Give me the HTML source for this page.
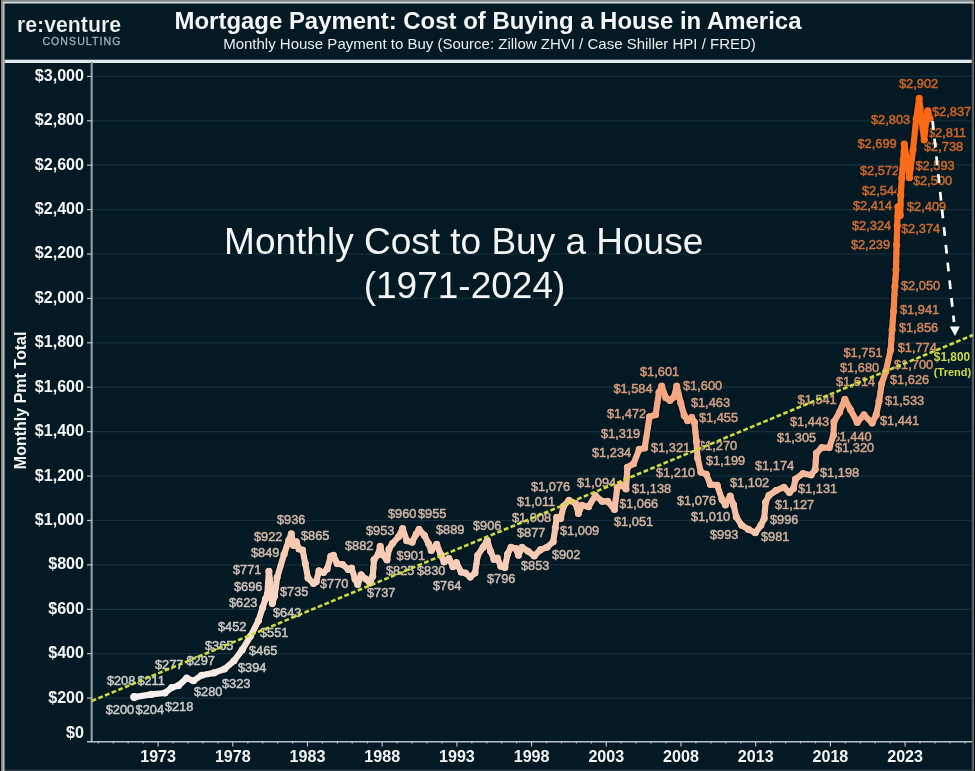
<!DOCTYPE html>
<html lang="en"><head><meta charset="utf-8"><title>Mortgage Payment: Cost of Buying a House in America</title>
<style>
html,body{margin:0;padding:0;background:#000;}
body{width:975px;height:771px;overflow:hidden;font-family:"Liberation Sans",Arial,sans-serif;}
svg{display:block;filter:blur(0.6px);}
text{font-family:"Liberation Sans",Arial,sans-serif;}
.yl{font-size:16.1px;font-weight:bold;fill:#f4f4f4;text-anchor:end;}
.xl{font-size:16.1px;font-weight:bold;fill:#f4f4f4;text-anchor:middle;}
.dl{font-size:12.8px;stroke-width:0.5px;}
</style></head><body>
<svg width="975" height="771" viewBox="0 0 975 771">
<rect x="0" y="0" width="975" height="771" fill="#000"/>
<rect x="1.0" y="0" width="972.8" height="771" fill="#838688"/>
<rect x="2.7" y="1.8" width="971.1" height="769.2" fill="#b4bcc0"/>
<rect x="2.7" y="1.8" width="971.1" height="1.9" fill="#ccd5da"/>
<rect x="4.7" y="3.7" width="969.1" height="767.3" fill="#4d5c64"/>
<rect x="4.7" y="769.8" width="969.1" height="1.2" fill="#2c3e48"/>
<rect x="4.7" y="3.7" width="967.1" height="766.1" fill="#031a24"/>
<rect x="4.7" y="59.7" width="967.1" height="3.3" fill="#dfe5e8"/>

<line x1="92" y1="698.1" x2="972" y2="698.1" stroke="#16303b" stroke-width="1.2"/>
<line x1="92" y1="653.7" x2="972" y2="653.7" stroke="#16303b" stroke-width="1.2"/>
<line x1="92" y1="609.3" x2="972" y2="609.3" stroke="#16303b" stroke-width="1.2"/>
<line x1="92" y1="564.9" x2="972" y2="564.9" stroke="#16303b" stroke-width="1.2"/>
<line x1="92" y1="520.5" x2="972" y2="520.5" stroke="#16303b" stroke-width="1.2"/>
<line x1="92" y1="476.1" x2="972" y2="476.1" stroke="#16303b" stroke-width="1.2"/>
<line x1="92" y1="431.6" x2="972" y2="431.6" stroke="#16303b" stroke-width="1.2"/>
<line x1="92" y1="387.2" x2="972" y2="387.2" stroke="#16303b" stroke-width="1.2"/>
<line x1="92" y1="342.8" x2="972" y2="342.8" stroke="#16303b" stroke-width="1.2"/>
<line x1="92" y1="298.4" x2="972" y2="298.4" stroke="#16303b" stroke-width="1.2"/>
<line x1="92" y1="254.0" x2="972" y2="254.0" stroke="#16303b" stroke-width="1.2"/>
<line x1="92" y1="209.6" x2="972" y2="209.6" stroke="#16303b" stroke-width="1.2"/>
<line x1="92" y1="165.2" x2="972" y2="165.2" stroke="#16303b" stroke-width="1.2"/>
<line x1="92" y1="120.8" x2="972" y2="120.8" stroke="#16303b" stroke-width="1.2"/>
<line x1="92" y1="76.4" x2="972" y2="76.4" stroke="#16303b" stroke-width="1.2"/>
<line x1="91.7" y1="62" x2="91.7" y2="742.5" stroke="#8e9aa1" stroke-width="2.2"/>
<line x1="87" y1="741.8" x2="972" y2="741.8" stroke="#b9c1c6" stroke-width="1.4"/>
<line x1="87" y1="698.1" x2="92" y2="698.1" stroke="#b9c1c6" stroke-width="1.2"/>
<text class="yl" x="84" y="702.5">$200</text>
<line x1="87" y1="653.7" x2="92" y2="653.7" stroke="#b9c1c6" stroke-width="1.2"/>
<text class="yl" x="84" y="658.1">$400</text>
<line x1="87" y1="609.3" x2="92" y2="609.3" stroke="#b9c1c6" stroke-width="1.2"/>
<text class="yl" x="84" y="613.7">$600</text>
<line x1="87" y1="564.9" x2="92" y2="564.9" stroke="#b9c1c6" stroke-width="1.2"/>
<text class="yl" x="84" y="569.3">$800</text>
<line x1="87" y1="520.5" x2="92" y2="520.5" stroke="#b9c1c6" stroke-width="1.2"/>
<text class="yl" x="84" y="524.9">$1,000</text>
<line x1="87" y1="476.1" x2="92" y2="476.1" stroke="#b9c1c6" stroke-width="1.2"/>
<text class="yl" x="84" y="480.5">$1,200</text>
<line x1="87" y1="431.6" x2="92" y2="431.6" stroke="#b9c1c6" stroke-width="1.2"/>
<text class="yl" x="84" y="436.0">$1,400</text>
<line x1="87" y1="387.2" x2="92" y2="387.2" stroke="#b9c1c6" stroke-width="1.2"/>
<text class="yl" x="84" y="391.6">$1,600</text>
<line x1="87" y1="342.8" x2="92" y2="342.8" stroke="#b9c1c6" stroke-width="1.2"/>
<text class="yl" x="84" y="347.2">$1,800</text>
<line x1="87" y1="298.4" x2="92" y2="298.4" stroke="#b9c1c6" stroke-width="1.2"/>
<text class="yl" x="84" y="302.8">$2,000</text>
<line x1="87" y1="254.0" x2="92" y2="254.0" stroke="#b9c1c6" stroke-width="1.2"/>
<text class="yl" x="84" y="258.4">$2,200</text>
<line x1="87" y1="209.6" x2="92" y2="209.6" stroke="#b9c1c6" stroke-width="1.2"/>
<text class="yl" x="84" y="214.0">$2,400</text>
<line x1="87" y1="165.2" x2="92" y2="165.2" stroke="#b9c1c6" stroke-width="1.2"/>
<text class="yl" x="84" y="169.6">$2,600</text>
<line x1="87" y1="120.8" x2="92" y2="120.8" stroke="#b9c1c6" stroke-width="1.2"/>
<text class="yl" x="84" y="125.2">$2,800</text>
<line x1="87" y1="76.4" x2="92" y2="76.4" stroke="#b9c1c6" stroke-width="1.2"/>
<text class="yl" x="84" y="80.8">$3,000</text>
<text class="yl" x="84" y="738.3">$0</text>
<line x1="98.3" y1="741.8" x2="98.3" y2="743.4" stroke="#b9c1c6" stroke-width="1.2"/>
<line x1="113.3" y1="741.8" x2="113.3" y2="743.4" stroke="#b9c1c6" stroke-width="1.2"/>
<line x1="128.2" y1="741.8" x2="128.2" y2="743.4" stroke="#b9c1c6" stroke-width="1.2"/>
<line x1="143.2" y1="741.8" x2="143.2" y2="743.4" stroke="#b9c1c6" stroke-width="1.2"/>
<line x1="158.1" y1="741.8" x2="158.1" y2="746.5" stroke="#b9c1c6" stroke-width="1.2"/>
<text class="xl" x="158.1" y="762.3">1973</text>
<line x1="173.0" y1="741.8" x2="173.0" y2="743.4" stroke="#b9c1c6" stroke-width="1.2"/>
<line x1="188.0" y1="741.8" x2="188.0" y2="743.4" stroke="#b9c1c6" stroke-width="1.2"/>
<line x1="202.9" y1="741.8" x2="202.9" y2="743.4" stroke="#b9c1c6" stroke-width="1.2"/>
<line x1="217.9" y1="741.8" x2="217.9" y2="743.4" stroke="#b9c1c6" stroke-width="1.2"/>
<line x1="232.8" y1="741.8" x2="232.8" y2="746.5" stroke="#b9c1c6" stroke-width="1.2"/>
<text class="xl" x="232.8" y="762.3">1978</text>
<line x1="247.7" y1="741.8" x2="247.7" y2="743.4" stroke="#b9c1c6" stroke-width="1.2"/>
<line x1="262.7" y1="741.8" x2="262.7" y2="743.4" stroke="#b9c1c6" stroke-width="1.2"/>
<line x1="277.6" y1="741.8" x2="277.6" y2="743.4" stroke="#b9c1c6" stroke-width="1.2"/>
<line x1="292.6" y1="741.8" x2="292.6" y2="743.4" stroke="#b9c1c6" stroke-width="1.2"/>
<line x1="307.5" y1="741.8" x2="307.5" y2="746.5" stroke="#b9c1c6" stroke-width="1.2"/>
<text class="xl" x="307.5" y="762.3">1983</text>
<line x1="322.4" y1="741.8" x2="322.4" y2="743.4" stroke="#b9c1c6" stroke-width="1.2"/>
<line x1="337.4" y1="741.8" x2="337.4" y2="743.4" stroke="#b9c1c6" stroke-width="1.2"/>
<line x1="352.3" y1="741.8" x2="352.3" y2="743.4" stroke="#b9c1c6" stroke-width="1.2"/>
<line x1="367.3" y1="741.8" x2="367.3" y2="743.4" stroke="#b9c1c6" stroke-width="1.2"/>
<line x1="382.2" y1="741.8" x2="382.2" y2="746.5" stroke="#b9c1c6" stroke-width="1.2"/>
<text class="xl" x="382.2" y="762.3">1988</text>
<line x1="397.1" y1="741.8" x2="397.1" y2="743.4" stroke="#b9c1c6" stroke-width="1.2"/>
<line x1="412.1" y1="741.8" x2="412.1" y2="743.4" stroke="#b9c1c6" stroke-width="1.2"/>
<line x1="427.0" y1="741.8" x2="427.0" y2="743.4" stroke="#b9c1c6" stroke-width="1.2"/>
<line x1="442.0" y1="741.8" x2="442.0" y2="743.4" stroke="#b9c1c6" stroke-width="1.2"/>
<line x1="456.9" y1="741.8" x2="456.9" y2="746.5" stroke="#b9c1c6" stroke-width="1.2"/>
<text class="xl" x="456.9" y="762.3">1993</text>
<line x1="471.8" y1="741.8" x2="471.8" y2="743.4" stroke="#b9c1c6" stroke-width="1.2"/>
<line x1="486.8" y1="741.8" x2="486.8" y2="743.4" stroke="#b9c1c6" stroke-width="1.2"/>
<line x1="501.7" y1="741.8" x2="501.7" y2="743.4" stroke="#b9c1c6" stroke-width="1.2"/>
<line x1="516.7" y1="741.8" x2="516.7" y2="743.4" stroke="#b9c1c6" stroke-width="1.2"/>
<line x1="531.6" y1="741.8" x2="531.6" y2="746.5" stroke="#b9c1c6" stroke-width="1.2"/>
<text class="xl" x="531.6" y="762.3">1998</text>
<line x1="546.5" y1="741.8" x2="546.5" y2="743.4" stroke="#b9c1c6" stroke-width="1.2"/>
<line x1="561.5" y1="741.8" x2="561.5" y2="743.4" stroke="#b9c1c6" stroke-width="1.2"/>
<line x1="576.4" y1="741.8" x2="576.4" y2="743.4" stroke="#b9c1c6" stroke-width="1.2"/>
<line x1="591.4" y1="741.8" x2="591.4" y2="743.4" stroke="#b9c1c6" stroke-width="1.2"/>
<line x1="606.3" y1="741.8" x2="606.3" y2="746.5" stroke="#b9c1c6" stroke-width="1.2"/>
<text class="xl" x="606.3" y="762.3">2003</text>
<line x1="621.2" y1="741.8" x2="621.2" y2="743.4" stroke="#b9c1c6" stroke-width="1.2"/>
<line x1="636.2" y1="741.8" x2="636.2" y2="743.4" stroke="#b9c1c6" stroke-width="1.2"/>
<line x1="651.1" y1="741.8" x2="651.1" y2="743.4" stroke="#b9c1c6" stroke-width="1.2"/>
<line x1="666.1" y1="741.8" x2="666.1" y2="743.4" stroke="#b9c1c6" stroke-width="1.2"/>
<line x1="681.0" y1="741.8" x2="681.0" y2="746.5" stroke="#b9c1c6" stroke-width="1.2"/>
<text class="xl" x="681.0" y="762.3">2008</text>
<line x1="695.9" y1="741.8" x2="695.9" y2="743.4" stroke="#b9c1c6" stroke-width="1.2"/>
<line x1="710.9" y1="741.8" x2="710.9" y2="743.4" stroke="#b9c1c6" stroke-width="1.2"/>
<line x1="725.8" y1="741.8" x2="725.8" y2="743.4" stroke="#b9c1c6" stroke-width="1.2"/>
<line x1="740.8" y1="741.8" x2="740.8" y2="743.4" stroke="#b9c1c6" stroke-width="1.2"/>
<line x1="755.7" y1="741.8" x2="755.7" y2="746.5" stroke="#b9c1c6" stroke-width="1.2"/>
<text class="xl" x="755.7" y="762.3">2013</text>
<line x1="770.6" y1="741.8" x2="770.6" y2="743.4" stroke="#b9c1c6" stroke-width="1.2"/>
<line x1="785.6" y1="741.8" x2="785.6" y2="743.4" stroke="#b9c1c6" stroke-width="1.2"/>
<line x1="800.5" y1="741.8" x2="800.5" y2="743.4" stroke="#b9c1c6" stroke-width="1.2"/>
<line x1="815.5" y1="741.8" x2="815.5" y2="743.4" stroke="#b9c1c6" stroke-width="1.2"/>
<line x1="830.4" y1="741.8" x2="830.4" y2="746.5" stroke="#b9c1c6" stroke-width="1.2"/>
<text class="xl" x="830.4" y="762.3">2018</text>
<line x1="845.3" y1="741.8" x2="845.3" y2="743.4" stroke="#b9c1c6" stroke-width="1.2"/>
<line x1="860.3" y1="741.8" x2="860.3" y2="743.4" stroke="#b9c1c6" stroke-width="1.2"/>
<line x1="875.2" y1="741.8" x2="875.2" y2="743.4" stroke="#b9c1c6" stroke-width="1.2"/>
<line x1="890.2" y1="741.8" x2="890.2" y2="743.4" stroke="#b9c1c6" stroke-width="1.2"/>
<line x1="905.1" y1="741.8" x2="905.1" y2="746.5" stroke="#b9c1c6" stroke-width="1.2"/>
<text class="xl" x="905.1" y="762.3">2023</text>
<line x1="920.0" y1="741.8" x2="920.0" y2="743.4" stroke="#b9c1c6" stroke-width="1.2"/>
<line x1="935.0" y1="741.8" x2="935.0" y2="743.4" stroke="#b9c1c6" stroke-width="1.2"/>
<line x1="949.9" y1="741.8" x2="949.9" y2="743.4" stroke="#b9c1c6" stroke-width="1.2"/>
<line x1="964.9" y1="741.8" x2="964.9" y2="743.4" stroke="#b9c1c6" stroke-width="1.2"/>
<text transform="translate(26.3,400.4) rotate(-90)" text-anchor="middle" font-size="16" font-weight="bold" fill="#f4f4f4">Monthly Pmt Total</text>
<text x="488" y="28.6" text-anchor="middle" font-size="23.95" font-weight="bold" fill="#f6f6f6">Mortgage Payment: Cost of Buying a House in America</text>
<text x="489.5" y="48.8" text-anchor="middle" font-size="15" fill="#eeeeee">Monthly House Payment to Buy (Source: Zillow ZHVI / Case Shiller HPI / FRED)</text>
<text x="17" y="31.7" font-size="21.6" font-weight="bold" fill="#f1f3f4" stroke="#031a24" stroke-width="0.2" textLength="104" lengthAdjust="spacingAndGlyphs">re:venture</text>
<text x="42.4" y="44.7" font-size="10.6" fill="#a3adb2" stroke="#a3adb2" stroke-width="0.3" textLength="78" lengthAdjust="spacing">CONSULTING</text>
<text x="463.7" y="254" text-anchor="middle" font-size="37" fill="#f4f4f4">Monthly Cost to Buy a House</text>
<text x="464.5" y="298" text-anchor="middle" font-size="37" fill="#f4f4f4">(1971-2024)</text>
<text class="dl" x="105.7" y="714.4" fill="#cacaca" stroke="#cacaca">$200</text>
<text class="dl" x="135.6" y="714.4" fill="#cacaca" stroke="#cacaca">$204</text>
<text class="dl" x="164.9" y="710.6" fill="#cacaca" stroke="#cacaca">$218</text>
<text class="dl" x="106.9" y="684.9" fill="#cacaca" stroke="#cacaca">$208</text>
<text class="dl" x="137.4" y="684.9" fill="#cacaca" stroke="#cacaca">$211</text>
<text class="dl" x="155" y="669.1" fill="#cbc9c8" stroke="#cbc9c8">$277</text>
<text class="dl" x="186.5" y="664.7" fill="#cbc9c8" stroke="#cbc9c8">$297</text>
<text class="dl" x="194" y="696.1" fill="#cbc9c8" stroke="#cbc9c8">$280</text>
<text class="dl" x="222" y="687.5" fill="#cbc8c7" stroke="#cbc8c7">$323</text>
<text class="dl" x="205" y="650.1" fill="#ccc8c6" stroke="#ccc8c6">$365</text>
<text class="dl" x="238" y="672.1" fill="#ccc8c5" stroke="#ccc8c5">$394</text>
<text class="dl" x="218" y="631.1" fill="#cdc7c4" stroke="#cdc7c4">$452</text>
<text class="dl" x="249" y="655.1" fill="#cdc7c3" stroke="#cdc7c3">$465</text>
<text class="dl" x="260" y="637.1" fill="#cec6c1" stroke="#cec6c1">$551</text>
<text class="dl" x="229" y="607.1" fill="#cec4be" stroke="#cec4be">$623</text>
<text class="dl" x="273" y="617.1" fill="#cfc3bd" stroke="#cfc3bd">$643</text>
<text class="dl" x="234" y="591.1" fill="#cfc0b8" stroke="#cfc0b8">$696</text>
<text class="dl" x="280" y="596.1" fill="#d0beb5" stroke="#d0beb5">$735</text>
<text class="dl" x="233" y="574.1" fill="#d0bcb2" stroke="#d0bcb2">$771</text>
<text class="dl" x="251" y="557.3" fill="#d1b9ac" stroke="#d1b9ac">$849</text>
<text class="dl" x="254" y="541.1" fill="#d2b5a7" stroke="#d2b5a7">$922</text>
<text class="dl" x="277" y="524.1" fill="#d2b5a6" stroke="#d2b5a6">$936</text>
<text class="dl" x="301" y="540.1" fill="#d2b8ab" stroke="#d2b8ab">$865</text>
<text class="dl" x="320" y="588.1" fill="#d0bcb2" stroke="#d0bcb2">$770</text>
<text class="dl" x="367" y="597.1" fill="#d0beb5" stroke="#d0beb5">$737</text>
<text class="dl" x="345" y="550.1" fill="#d2b7a9" stroke="#d2b7a9">$882</text>
<text class="dl" x="366" y="535.1" fill="#d2b4a5" stroke="#d2b4a5">$953</text>
<text class="dl" x="388" y="518.1" fill="#d2b4a4" stroke="#d2b4a4">$960</text>
<text class="dl" x="418" y="518.1" fill="#d2b4a4" stroke="#d2b4a4">$955</text>
<text class="dl" x="396.6" y="560.1" fill="#d2b6a8" stroke="#d2b6a8">$901</text>
<text class="dl" x="386" y="575.1" fill="#d1baae" stroke="#d1baae">$825</text>
<text class="dl" x="417" y="575.1" fill="#d1baae" stroke="#d1baae">$830</text>
<text class="dl" x="436" y="534.1" fill="#d2b7a9" stroke="#d2b7a9">$889</text>
<text class="dl" x="433" y="590.1" fill="#d0bdb3" stroke="#d0bdb3">$764</text>
<text class="dl" x="473" y="530.1" fill="#d2b6a8" stroke="#d2b6a8">$906</text>
<text class="dl" x="487" y="583.1" fill="#d1bbb0" stroke="#d1bbb0">$796</text>
<text class="dl" x="521" y="570.1" fill="#d1b8ac" stroke="#d1b8ac">$853</text>
<text class="dl" x="517" y="537.1" fill="#d2b7aa" stroke="#d2b7aa">$877</text>
<text class="dl" x="552" y="559.1" fill="#d2b6a8" stroke="#d2b6a8">$902</text>
<text class="dl" x="512" y="522.1" fill="#d3b2a1" stroke="#d3b2a1">$1,008</text>
<text class="dl" x="517" y="506.1" fill="#d3b2a1" stroke="#d3b2a1">$1,011</text>
<text class="dl" x="531" y="491.1" fill="#d3af9d" stroke="#d3af9d">$1,076</text>
<text class="dl" x="560" y="535.1" fill="#d3b2a1" stroke="#d3b2a1">$1,009</text>
<text class="dl" x="577" y="487.1" fill="#d3ae9b" stroke="#d3ae9b">$1,094</text>
<text class="dl" x="614" y="526.1" fill="#d3b09e" stroke="#d3b09e">$1,051</text>
<text class="dl" x="619" y="508.1" fill="#d3af9d" stroke="#d3af9d">$1,066</text>
<text class="dl" x="632" y="493.0" fill="#d3ac99" stroke="#d3ac99">$1,138</text>
<text class="dl" x="592" y="457.1" fill="#d4a992" stroke="#d4a992">$1,234</text>
<text class="dl" x="601" y="438.1" fill="#d4a58d" stroke="#d4a58d">$1,319</text>
<text class="dl" x="607" y="418.1" fill="#d59e81" stroke="#d59e81">$1,472</text>
<text class="dl" x="613.4" y="393.1" fill="#d69979" stroke="#d69979">$1,584</text>
<text class="dl" x="640" y="376.1" fill="#d69878" stroke="#d69878">$1,601</text>
<text class="dl" x="683" y="390.1" fill="#d69878" stroke="#d69878">$1,600</text>
<text class="dl" x="690.9" y="406.5" fill="#d59e82" stroke="#d59e82">$1,463</text>
<text class="dl" x="698.9" y="422.3" fill="#d59f83" stroke="#d59f83">$1,455</text>
<text class="dl" x="651" y="452.4" fill="#d4a58c" stroke="#d4a58c">$1,321</text>
<text class="dl" x="656" y="477.3" fill="#d4aa94" stroke="#d4aa94">$1,210</text>
<text class="dl" x="698" y="449.8" fill="#d4a790" stroke="#d4a790">$1,270</text>
<text class="dl" x="706" y="465.1" fill="#d3aa95" stroke="#d3aa95">$1,199</text>
<text class="dl" x="677" y="505.1" fill="#d3af9d" stroke="#d3af9d">$1,076</text>
<text class="dl" x="691" y="521.1" fill="#d3b2a1" stroke="#d3b2a1">$1,010</text>
<text class="dl" x="710" y="539.1" fill="#d2b2a2" stroke="#d2b2a2">$993</text>
<text class="dl" x="730" y="487.1" fill="#d3ae9b" stroke="#d3ae9b">$1,102</text>
<text class="dl" x="761" y="541.1" fill="#d2b3a3" stroke="#d2b3a3">$981</text>
<text class="dl" x="770" y="524.1" fill="#d2b2a2" stroke="#d2b2a2">$996</text>
<text class="dl" x="755" y="470.1" fill="#d3ab96" stroke="#d3ab96">$1,174</text>
<text class="dl" x="775" y="509.1" fill="#d3ad99" stroke="#d3ad99">$1,127</text>
<text class="dl" x="798" y="493.1" fill="#d3ad99" stroke="#d3ad99">$1,131</text>
<text class="dl" x="820" y="477.1" fill="#d3aa95" stroke="#d3aa95">$1,198</text>
<text class="dl" x="777" y="442.1" fill="#d4a68e" stroke="#d4a68e">$1,305</text>
<text class="dl" x="835" y="452.1" fill="#d4a58d" stroke="#d4a58d">$1,320</text>
<text class="dl" x="832.5" y="441.4" fill="#d59f84" stroke="#d59f84">$1,440</text>
<text class="dl" x="790" y="426.4" fill="#d59f84" stroke="#d59f84">$1,443</text>
<text class="dl" x="797.6" y="403.9" fill="#d69b7c" stroke="#d69b7c">$1,541</text>
<text class="dl" x="836" y="386.1" fill="#d69777" stroke="#d69777">$1,614</text>
<text class="dl" x="840" y="372.1" fill="#d49270" stroke="#d49270">$1,680</text>
<text class="dl" x="843.5" y="356.6" fill="#d28d6a" stroke="#d28d6a">$1,751</text>
<text class="dl" x="880" y="425.1" fill="#d59f84" stroke="#d59f84">$1,441</text>
<text class="dl" x="885" y="405.1" fill="#d69b7d" stroke="#d69b7d">$1,533</text>
<text class="dl" x="890" y="384.1" fill="#d59676" stroke="#d59676">$1,626</text>
<text class="dl" x="894" y="368.7" fill="#d3916e" stroke="#d3916e">$1,700</text>
<text class="dl" x="897.7" y="351.5" fill="#d18c67" stroke="#d18c67">$1,774</text>
<text class="dl" x="899" y="332.1" fill="#cf8660" stroke="#cf8660">$1,856</text>
<text class="dl" x="900" y="314.1" fill="#cd8058" stroke="#cd8058">$1,941</text>
<text class="dl" x="901" y="290.1" fill="#cb7a4e" stroke="#cb7a4e">$2,050</text>
<text class="dl" x="850.9" y="249.1" fill="#cb703e" stroke="#cb703e">$2,239</text>
<text class="dl" x="852" y="230.1" fill="#cb6c36" stroke="#cb6c36">$2,324</text>
<text class="dl" x="853" y="210.1" fill="#cb6830" stroke="#cb6830">$2,414</text>
<text class="dl" x="862" y="195.0" fill="#cc662c" stroke="#cc662c">$2,544</text>
<text class="dl" x="860" y="175.1" fill="#cc662b" stroke="#cc662b">$2,572</text>
<text class="dl" x="857.5" y="147.8" fill="#cd6428" stroke="#cd6428">$2,699</text>
<text class="dl" x="871" y="123.6" fill="#ce6325" stroke="#ce6325">$2,803</text>
<text class="dl" x="899" y="88.1" fill="#cf6222" stroke="#cf6222">$2,902</text>
<text class="dl" x="932" y="116.1" fill="#ce6324" stroke="#ce6324">$2,837</text>
<text class="dl" x="928" y="136.9" fill="#ce6324" stroke="#ce6324">$2,811</text>
<text class="dl" x="924" y="151.1" fill="#ce6427" stroke="#ce6427">$2,738</text>
<text class="dl" x="915.5" y="170.4" fill="#cd662b" stroke="#cd662b">$2,593</text>
<text class="dl" x="913" y="185.1" fill="#cc672d" stroke="#cc672d">$2,500</text>
<text class="dl" x="907" y="211.1" fill="#cb6830" stroke="#cb6830">$2,409</text>
<text class="dl" x="901" y="233.1" fill="#cb6932" stroke="#cb6932">$2,374</text>
<polyline fill="none" stroke="#01131b" stroke-width="9" stroke-linejoin="round" stroke-linecap="round" points="134.3,697.1 151.3,694.4 164.9,693.0 171.7,687.6 178.5,685.6 186.7,678.1 193.5,680.8 201.7,675.3 214.0,672.9 224.5,669.0 234.0,660.8 242.2,649.9 250.4,636.3 258.5,620.6 262.6,607.7 265.5,599.0 267.4,594.0 268.9,571.2 270.8,589.0 272.3,603.6 274.6,596.0 277.1,577.6 284.1,554.2 288.8,540.2 291.3,533.8 293.5,545.4 296.3,541.8 299.0,549.0 302.6,550.0 305.3,563.6 308.0,578.0 313.5,583.5 316.2,581.7 319.0,570.8 323.5,572.6 327.1,569.0 330.8,556.3 333.5,555.4 337.1,563.6 342.6,564.5 348.2,569.4 351.6,568.1 355.0,579.0 357.7,584.4 361.1,574.9 365.9,579.0 370.0,583.0 372.7,576.2 374.0,559.9 378.1,554.5 380.2,546.3 382.2,554.5 387.0,559.9 389.0,549.0 392.4,543.6 398.5,536.8 402.6,528.6 406.7,540.8 412.1,542.2 416.2,534.0 419.0,529.3 424.4,535.4 428.5,543.6 431.2,550.4 436.7,544.2 440.7,554.5 444.1,561.9 448.9,558.5 453.0,566.7 456.4,562.6 461.2,572.1 465.4,573.0 470.2,577.1 475.0,573.0 477.7,555.3 483.1,547.2 487.2,540.4 490.6,551.3 494.0,559.4 497.4,558.1 500.8,566.2 504.9,567.6 507.6,554.0 511.0,547.2 515.8,548.5 518.5,555.3 521.9,547.2 528.1,551.3 534.2,556.0 540.3,549.9 547.1,547.2 553.2,541.7 555.3,528.1 556.7,517.2 560.7,518.6 563.5,506.3 568.9,500.2 575.7,503.6 578.4,513.5 581.8,505.3 588.6,506.7 595.4,495.5 602.2,501.3 607.7,501.3 614.5,509.4 617.2,487.6 621.3,484.9 626.0,489.0 627.4,467.2 633.5,463.8 639.2,449.4 644.7,448.0 649.5,416.7 655.6,414.7 659.0,392.2 661.7,386.1 665.8,397.7 669.9,400.4 674.0,397.0 676.7,386.1 680.8,403.1 684.2,415.4 687.6,420.8 691.7,417.4 694.4,422.2 696.4,441.2 697.6,458.0 700.9,472.2 706.3,474.3 710.4,484.5 717.2,485.2 722.0,499.5 725.4,504.9 730.2,496.0 733.6,504.9 736.3,517.1 741.7,525.3 748.5,529.4 755.3,532.8 760.8,525.3 764.2,518.5 765.6,502.2 769.0,495.4 775.8,490.6 783.9,487.2 789.4,492.6 793.5,488.6 795.5,479.0 803.0,473.6 811.2,475.0 815.2,469.5 816.4,453.0 821.8,447.6 829.3,447.6 833.4,435.3 834.0,421.7 839.5,412.2 844.9,399.3 850.4,409.5 857.2,422.4 864.0,414.9 872.1,423.1 876.2,414.9 879.0,401.3 881.7,383.6 885.8,371.4 890.7,349.9 892.1,329.9 893.5,311.4 894.9,286.4 896.0,270.0 896.6,244.9 897.2,225.8 897.9,206.8 900.2,215.4 900.8,195.0 901.8,178.0 903.2,160.0 904.3,144.0 906.8,160.0 909.4,177.8 913.0,150.0 916.2,119.0 919.2,98.2 921.4,118.0 924.2,140.0 926.0,122.0 927.8,110.7 930.0,118.5"/>
<g stroke-width="6.2" stroke-linecap="round" fill="none">
<line x1="134.3" y1="697.1" x2="151.3" y2="694.4" stroke="#f7f2f0"/>
<line x1="151.3" y1="694.4" x2="164.9" y2="693.0" stroke="#f7f2ef"/>
<line x1="164.9" y1="693.0" x2="171.7" y2="687.6" stroke="#f7f1ed"/>
<line x1="171.7" y1="687.6" x2="178.5" y2="685.6" stroke="#f7f0ec"/>
<line x1="178.5" y1="685.6" x2="186.7" y2="678.1" stroke="#f7eeea"/>
<line x1="186.7" y1="678.1" x2="193.5" y2="680.8" stroke="#f7ede8"/>
<line x1="193.5" y1="680.8" x2="201.7" y2="675.3" stroke="#f7ede8"/>
<line x1="201.7" y1="675.3" x2="214.0" y2="672.9" stroke="#f7ece6"/>
<line x1="214.0" y1="672.9" x2="224.5" y2="669.0" stroke="#f7ebe4"/>
<line x1="224.5" y1="669.0" x2="234.0" y2="660.8" stroke="#f7e9e2"/>
<line x1="234.0" y1="660.8" x2="242.2" y2="649.9" stroke="#f7e6dd"/>
<line x1="242.2" y1="649.9" x2="250.4" y2="636.3" stroke="#f7e2d8"/>
<line x1="250.4" y1="636.3" x2="258.5" y2="620.6" stroke="#f7ded1"/>
<line x1="258.5" y1="620.6" x2="262.6" y2="607.7" stroke="#f7d9ca"/>
<line x1="262.6" y1="607.7" x2="265.5" y2="599.0" stroke="#f7d7c6"/>
<line x1="265.5" y1="599.0" x2="267.4" y2="594.0" stroke="#f7d5c4"/>
<line x1="267.4" y1="594.0" x2="268.1" y2="582.6" stroke="#f7d3c1"/>
<line x1="268.1" y1="582.6" x2="268.9" y2="571.2" stroke="#f7d0bd"/>
<line x1="268.9" y1="571.2" x2="269.9" y2="580.1" stroke="#f7d0bd"/>
<line x1="269.9" y1="580.1" x2="270.8" y2="589.0" stroke="#f7d2c0"/>
<line x1="270.8" y1="589.0" x2="272.3" y2="603.6" stroke="#f7d5c4"/>
<line x1="272.3" y1="603.6" x2="274.6" y2="596.0" stroke="#f7d6c5"/>
<line x1="274.6" y1="596.0" x2="275.9" y2="586.8" stroke="#f7d4c2"/>
<line x1="275.9" y1="586.8" x2="277.1" y2="577.6" stroke="#f7d1bf"/>
<line x1="277.1" y1="577.6" x2="280.6" y2="565.9" stroke="#f7cfbc"/>
<line x1="280.6" y1="565.9" x2="284.1" y2="554.2" stroke="#f7ccb8"/>
<line x1="284.1" y1="554.2" x2="288.8" y2="540.2" stroke="#f7c9b3"/>
<line x1="288.8" y1="540.2" x2="291.3" y2="533.8" stroke="#f7c7b0"/>
<line x1="291.3" y1="533.8" x2="293.5" y2="545.4" stroke="#f7c7b1"/>
<line x1="293.5" y1="545.4" x2="296.3" y2="541.8" stroke="#f7c8b2"/>
<line x1="296.3" y1="541.8" x2="299.0" y2="549.0" stroke="#f7c9b3"/>
<line x1="299.0" y1="549.0" x2="302.6" y2="550.0" stroke="#f7cab4"/>
<line x1="302.6" y1="550.0" x2="305.3" y2="563.6" stroke="#f7cbb7"/>
<line x1="305.3" y1="563.6" x2="308.0" y2="578.0" stroke="#f7cfbb"/>
<line x1="308.0" y1="578.0" x2="313.5" y2="583.5" stroke="#f7d1bf"/>
<line x1="313.5" y1="583.5" x2="316.2" y2="581.7" stroke="#f7d2bf"/>
<line x1="316.2" y1="581.7" x2="319.0" y2="570.8" stroke="#f7d0bd"/>
<line x1="319.0" y1="570.8" x2="323.5" y2="572.6" stroke="#f7cfbc"/>
<line x1="323.5" y1="572.6" x2="327.1" y2="569.0" stroke="#f7cfbb"/>
<line x1="327.1" y1="569.0" x2="330.8" y2="556.3" stroke="#f7cdb9"/>
<line x1="330.8" y1="556.3" x2="333.5" y2="555.4" stroke="#f7cbb6"/>
<line x1="333.5" y1="555.4" x2="337.1" y2="563.6" stroke="#f7ccb8"/>
<line x1="337.1" y1="563.6" x2="342.6" y2="564.5" stroke="#f7cdb9"/>
<line x1="342.6" y1="564.5" x2="348.2" y2="569.4" stroke="#f7ceba"/>
<line x1="348.2" y1="569.4" x2="351.6" y2="568.1" stroke="#f7cebb"/>
<line x1="351.6" y1="568.1" x2="355.0" y2="579.0" stroke="#f7cfbc"/>
<line x1="355.0" y1="579.0" x2="357.7" y2="584.4" stroke="#f7d1bf"/>
<line x1="357.7" y1="584.4" x2="361.1" y2="574.9" stroke="#f7d1be"/>
<line x1="361.1" y1="574.9" x2="365.9" y2="579.0" stroke="#f7d0bd"/>
<line x1="365.9" y1="579.0" x2="370.0" y2="583.0" stroke="#f7d1bf"/>
<line x1="370.0" y1="583.0" x2="372.7" y2="576.2" stroke="#f7d1be"/>
<line x1="372.7" y1="576.2" x2="373.4" y2="568.0" stroke="#f7cfbc"/>
<line x1="373.4" y1="568.0" x2="374.0" y2="559.9" stroke="#f7cdb9"/>
<line x1="374.0" y1="559.9" x2="378.1" y2="554.5" stroke="#f7cbb7"/>
<line x1="378.1" y1="554.5" x2="380.2" y2="546.3" stroke="#f7cab5"/>
<line x1="380.2" y1="546.3" x2="382.2" y2="554.5" stroke="#f7cab5"/>
<line x1="382.2" y1="554.5" x2="387.0" y2="559.9" stroke="#f7cbb7"/>
<line x1="387.0" y1="559.9" x2="389.0" y2="549.0" stroke="#f7cbb6"/>
<line x1="389.0" y1="549.0" x2="392.4" y2="543.6" stroke="#f7c9b3"/>
<line x1="392.4" y1="543.6" x2="398.5" y2="536.8" stroke="#f7c7b1"/>
<line x1="398.5" y1="536.8" x2="402.6" y2="528.6" stroke="#f7c6af"/>
<line x1="402.6" y1="528.6" x2="406.7" y2="540.8" stroke="#f7c6af"/>
<line x1="406.7" y1="540.8" x2="412.1" y2="542.2" stroke="#f7c8b2"/>
<line x1="412.1" y1="542.2" x2="416.2" y2="534.0" stroke="#f7c7b0"/>
<line x1="416.2" y1="534.0" x2="419.0" y2="529.3" stroke="#f7c6ae"/>
<line x1="419.0" y1="529.3" x2="424.4" y2="535.4" stroke="#f7c6af"/>
<line x1="424.4" y1="535.4" x2="428.5" y2="543.6" stroke="#f7c7b1"/>
<line x1="428.5" y1="543.6" x2="431.2" y2="550.4" stroke="#f7c9b3"/>
<line x1="431.2" y1="550.4" x2="436.7" y2="544.2" stroke="#f7c9b4"/>
<line x1="436.7" y1="544.2" x2="440.7" y2="554.5" stroke="#f7cab4"/>
<line x1="440.7" y1="554.5" x2="444.1" y2="561.9" stroke="#f7ccb7"/>
<line x1="444.1" y1="561.9" x2="448.9" y2="558.5" stroke="#f7ccb8"/>
<line x1="448.9" y1="558.5" x2="453.0" y2="566.7" stroke="#f7cdb9"/>
<line x1="453.0" y1="566.7" x2="456.4" y2="562.6" stroke="#f7cdb9"/>
<line x1="456.4" y1="562.6" x2="461.2" y2="572.1" stroke="#f7ceba"/>
<line x1="461.2" y1="572.1" x2="465.4" y2="573.0" stroke="#f7cfbc"/>
<line x1="465.4" y1="573.0" x2="470.2" y2="577.1" stroke="#f7d0bd"/>
<line x1="470.2" y1="577.1" x2="475.0" y2="573.0" stroke="#f7d0bd"/>
<line x1="475.0" y1="573.0" x2="476.4" y2="564.1" stroke="#f7cebb"/>
<line x1="476.4" y1="564.1" x2="477.7" y2="555.3" stroke="#f7ccb8"/>
<line x1="477.7" y1="555.3" x2="483.1" y2="547.2" stroke="#f7cab5"/>
<line x1="483.1" y1="547.2" x2="487.2" y2="540.4" stroke="#f7c8b2"/>
<line x1="487.2" y1="540.4" x2="490.6" y2="551.3" stroke="#f7c9b3"/>
<line x1="490.6" y1="551.3" x2="494.0" y2="559.4" stroke="#f7cbb6"/>
<line x1="494.0" y1="559.4" x2="497.4" y2="558.1" stroke="#f7ccb7"/>
<line x1="497.4" y1="558.1" x2="500.8" y2="566.2" stroke="#f7cdb8"/>
<line x1="500.8" y1="566.2" x2="504.9" y2="567.6" stroke="#f7ceba"/>
<line x1="504.9" y1="567.6" x2="507.6" y2="554.0" stroke="#f7ccb8"/>
<line x1="507.6" y1="554.0" x2="511.0" y2="547.2" stroke="#f7cab5"/>
<line x1="511.0" y1="547.2" x2="515.8" y2="548.5" stroke="#f7c9b4"/>
<line x1="515.8" y1="548.5" x2="518.5" y2="555.3" stroke="#f7cab5"/>
<line x1="518.5" y1="555.3" x2="521.9" y2="547.2" stroke="#f7cab5"/>
<line x1="521.9" y1="547.2" x2="528.1" y2="551.3" stroke="#f7cab4"/>
<line x1="528.1" y1="551.3" x2="534.2" y2="556.0" stroke="#f7cbb6"/>
<line x1="534.2" y1="556.0" x2="540.3" y2="549.9" stroke="#f7cab5"/>
<line x1="540.3" y1="549.9" x2="547.1" y2="547.2" stroke="#f7c9b4"/>
<line x1="547.1" y1="547.2" x2="553.2" y2="541.7" stroke="#f7c8b3"/>
<line x1="553.2" y1="541.7" x2="555.3" y2="528.1" stroke="#f7c6af"/>
<line x1="555.3" y1="528.1" x2="556.7" y2="517.2" stroke="#f7c3ab"/>
<line x1="556.7" y1="517.2" x2="560.7" y2="518.6" stroke="#f7c2aa"/>
<line x1="560.7" y1="518.6" x2="563.5" y2="506.3" stroke="#f7c1a8"/>
<line x1="563.5" y1="506.3" x2="568.9" y2="500.2" stroke="#f7bfa5"/>
<line x1="568.9" y1="500.2" x2="575.7" y2="503.6" stroke="#f7bfa4"/>
<line x1="575.7" y1="503.6" x2="578.4" y2="513.5" stroke="#f7c0a6"/>
<line x1="578.4" y1="513.5" x2="581.8" y2="505.3" stroke="#f7c1a7"/>
<line x1="581.8" y1="505.3" x2="588.6" y2="506.7" stroke="#f7c0a6"/>
<line x1="588.6" y1="506.7" x2="595.4" y2="495.5" stroke="#f7bfa4"/>
<line x1="595.4" y1="495.5" x2="602.2" y2="501.3" stroke="#f7bea3"/>
<line x1="602.2" y1="501.3" x2="607.7" y2="501.3" stroke="#f7bfa4"/>
<line x1="607.7" y1="501.3" x2="614.5" y2="509.4" stroke="#f7c0a5"/>
<line x1="614.5" y1="509.4" x2="615.9" y2="498.5" stroke="#f7bfa5"/>
<line x1="615.9" y1="498.5" x2="617.2" y2="487.6" stroke="#f6bda1"/>
<line x1="617.2" y1="487.6" x2="621.3" y2="484.9" stroke="#f6bb9f"/>
<line x1="621.3" y1="484.9" x2="626.0" y2="489.0" stroke="#f6bb9f"/>
<line x1="626.0" y1="489.0" x2="626.7" y2="478.1" stroke="#f6bb9e"/>
<line x1="626.7" y1="478.1" x2="627.4" y2="467.2" stroke="#f6b89a"/>
<line x1="627.4" y1="467.2" x2="633.5" y2="463.8" stroke="#f6b798"/>
<line x1="633.5" y1="463.8" x2="639.2" y2="449.4" stroke="#f6b595"/>
<line x1="639.2" y1="449.4" x2="644.7" y2="448.0" stroke="#f6b392"/>
<line x1="644.7" y1="448.0" x2="646.3" y2="437.6" stroke="#f6b190"/>
<line x1="646.3" y1="437.6" x2="647.9" y2="427.1" stroke="#f6af8d"/>
<line x1="647.9" y1="427.1" x2="649.5" y2="416.7" stroke="#f6ac89"/>
<line x1="649.5" y1="416.7" x2="655.6" y2="414.7" stroke="#f5ab87"/>
<line x1="655.6" y1="414.7" x2="657.3" y2="403.4" stroke="#f5a985"/>
<line x1="657.3" y1="403.4" x2="659.0" y2="392.2" stroke="#f5a781"/>
<line x1="659.0" y1="392.2" x2="661.7" y2="386.1" stroke="#f5a47f"/>
<line x1="661.7" y1="386.1" x2="665.8" y2="397.7" stroke="#f5a580"/>
<line x1="665.8" y1="397.7" x2="669.9" y2="400.4" stroke="#f5a782"/>
<line x1="669.9" y1="400.4" x2="674.0" y2="397.0" stroke="#f5a782"/>
<line x1="674.0" y1="397.0" x2="676.7" y2="386.1" stroke="#f5a57f"/>
<line x1="676.7" y1="386.1" x2="678.8" y2="394.6" stroke="#f5a57f"/>
<line x1="678.8" y1="394.6" x2="680.8" y2="403.1" stroke="#f5a782"/>
<line x1="680.8" y1="403.1" x2="684.2" y2="415.4" stroke="#f5a985"/>
<line x1="684.2" y1="415.4" x2="687.6" y2="420.8" stroke="#f5ab88"/>
<line x1="687.6" y1="420.8" x2="691.7" y2="417.4" stroke="#f5ac89"/>
<line x1="691.7" y1="417.4" x2="694.4" y2="422.2" stroke="#f5ac89"/>
<line x1="694.4" y1="422.2" x2="695.4" y2="431.7" stroke="#f6ae8b"/>
<line x1="695.4" y1="431.7" x2="696.4" y2="441.2" stroke="#f6b08e"/>
<line x1="696.4" y1="441.2" x2="697.0" y2="449.6" stroke="#f6b291"/>
<line x1="697.0" y1="449.6" x2="697.6" y2="458.0" stroke="#f6b494"/>
<line x1="697.6" y1="458.0" x2="700.9" y2="472.2" stroke="#f6b798"/>
<line x1="700.9" y1="472.2" x2="706.3" y2="474.3" stroke="#f6b89b"/>
<line x1="706.3" y1="474.3" x2="710.4" y2="484.5" stroke="#f6ba9d"/>
<line x1="710.4" y1="484.5" x2="717.2" y2="485.2" stroke="#f6bb9e"/>
<line x1="717.2" y1="485.2" x2="722.0" y2="499.5" stroke="#f6bda1"/>
<line x1="722.0" y1="499.5" x2="725.4" y2="504.9" stroke="#f7bfa4"/>
<line x1="725.4" y1="504.9" x2="730.2" y2="496.0" stroke="#f7bea4"/>
<line x1="730.2" y1="496.0" x2="733.6" y2="504.9" stroke="#f7bea4"/>
<line x1="733.6" y1="504.9" x2="736.3" y2="517.1" stroke="#f7c1a7"/>
<line x1="736.3" y1="517.1" x2="741.7" y2="525.3" stroke="#f7c3ab"/>
<line x1="741.7" y1="525.3" x2="748.5" y2="529.4" stroke="#f7c5ad"/>
<line x1="748.5" y1="529.4" x2="755.3" y2="532.8" stroke="#f7c5ae"/>
<line x1="755.3" y1="532.8" x2="760.8" y2="525.3" stroke="#f7c5ad"/>
<line x1="760.8" y1="525.3" x2="764.2" y2="518.5" stroke="#f7c3ab"/>
<line x1="764.2" y1="518.5" x2="764.9" y2="510.4" stroke="#f7c2a8"/>
<line x1="764.9" y1="510.4" x2="765.6" y2="502.2" stroke="#f7c0a6"/>
<line x1="765.6" y1="502.2" x2="769.0" y2="495.4" stroke="#f7bea3"/>
<line x1="769.0" y1="495.4" x2="775.8" y2="490.6" stroke="#f6bda1"/>
<line x1="775.8" y1="490.6" x2="783.9" y2="487.2" stroke="#f6bca0"/>
<line x1="783.9" y1="487.2" x2="789.4" y2="492.6" stroke="#f6bca0"/>
<line x1="789.4" y1="492.6" x2="793.5" y2="488.6" stroke="#f6bca0"/>
<line x1="793.5" y1="488.6" x2="795.5" y2="479.0" stroke="#f6bb9e"/>
<line x1="795.5" y1="479.0" x2="803.0" y2="473.6" stroke="#f6b99c"/>
<line x1="803.0" y1="473.6" x2="811.2" y2="475.0" stroke="#f6b99b"/>
<line x1="811.2" y1="475.0" x2="815.2" y2="469.5" stroke="#f6b89a"/>
<line x1="815.2" y1="469.5" x2="815.8" y2="461.2" stroke="#f6b798"/>
<line x1="815.8" y1="461.2" x2="816.4" y2="453.0" stroke="#f6b595"/>
<line x1="816.4" y1="453.0" x2="821.8" y2="447.6" stroke="#f6b393"/>
<line x1="821.8" y1="447.6" x2="829.3" y2="447.6" stroke="#f6b292"/>
<line x1="829.3" y1="447.6" x2="833.4" y2="435.3" stroke="#f6b190"/>
<line x1="833.4" y1="435.3" x2="834.0" y2="421.7" stroke="#f6ae8c"/>
<line x1="834.0" y1="421.7" x2="839.5" y2="412.2" stroke="#f5ab88"/>
<line x1="839.5" y1="412.2" x2="844.9" y2="399.3" stroke="#f5a884"/>
<line x1="844.9" y1="399.3" x2="850.4" y2="409.5" stroke="#f5a884"/>
<line x1="850.4" y1="409.5" x2="857.2" y2="422.4" stroke="#f5ab87"/>
<line x1="857.2" y1="422.4" x2="864.0" y2="414.9" stroke="#f5ac88"/>
<line x1="864.0" y1="414.9" x2="872.1" y2="423.1" stroke="#f5ac88"/>
<line x1="872.1" y1="423.1" x2="876.2" y2="414.9" stroke="#f5ac88"/>
<line x1="876.2" y1="414.9" x2="879.0" y2="401.3" stroke="#f5a985"/>
<line x1="879.0" y1="401.3" x2="880.4" y2="392.5" stroke="#f5a681"/>
<line x1="880.4" y1="392.5" x2="881.7" y2="383.6" stroke="#f5a47e"/>
<line x1="881.7" y1="383.6" x2="885.8" y2="371.4" stroke="#f5a178"/>
<line x1="885.8" y1="371.4" x2="888.2" y2="360.6" stroke="#f59d71"/>
<line x1="888.2" y1="360.6" x2="890.7" y2="349.9" stroke="#f5996b"/>
<line x1="890.7" y1="349.9" x2="891.4" y2="339.9" stroke="#f59664"/>
<line x1="891.4" y1="339.9" x2="892.1" y2="329.9" stroke="#f6925e"/>
<line x1="892.1" y1="329.9" x2="892.8" y2="320.6" stroke="#f68f58"/>
<line x1="892.8" y1="320.6" x2="893.5" y2="311.4" stroke="#f68c53"/>
<line x1="893.5" y1="311.4" x2="894.0" y2="303.1" stroke="#f6894d"/>
<line x1="894.0" y1="303.1" x2="894.4" y2="294.7" stroke="#f68648"/>
<line x1="894.4" y1="294.7" x2="894.9" y2="286.4" stroke="#f68445"/>
<line x1="894.9" y1="286.4" x2="895.5" y2="278.2" stroke="#f78241"/>
<line x1="895.5" y1="278.2" x2="896.0" y2="270.0" stroke="#f7803e"/>
<line x1="896.0" y1="270.0" x2="896.2" y2="261.6" stroke="#f77e3a"/>
<line x1="896.2" y1="261.6" x2="896.4" y2="253.3" stroke="#f77c36"/>
<line x1="896.4" y1="253.3" x2="896.6" y2="244.9" stroke="#f87a33"/>
<line x1="896.6" y1="244.9" x2="896.9" y2="235.4" stroke="#f8782f"/>
<line x1="896.9" y1="235.4" x2="897.2" y2="225.8" stroke="#f8752b"/>
<line x1="897.2" y1="225.8" x2="897.5" y2="216.3" stroke="#f97327"/>
<line x1="897.5" y1="216.3" x2="897.9" y2="206.8" stroke="#f97023"/>
<line x1="897.9" y1="206.8" x2="900.2" y2="215.4" stroke="#f97023"/>
<line x1="900.2" y1="215.4" x2="900.5" y2="205.2" stroke="#f97022"/>
<line x1="900.5" y1="205.2" x2="900.8" y2="195.0" stroke="#f96f20"/>
<line x1="900.8" y1="195.0" x2="901.3" y2="186.5" stroke="#fa6f1f"/>
<line x1="901.3" y1="186.5" x2="901.8" y2="178.0" stroke="#fa6e1e"/>
<line x1="901.8" y1="178.0" x2="902.5" y2="169.0" stroke="#fa6d1c"/>
<line x1="902.5" y1="169.0" x2="903.2" y2="160.0" stroke="#fa6d1b"/>
<line x1="903.2" y1="160.0" x2="903.8" y2="152.0" stroke="#fa6c19"/>
<line x1="903.8" y1="152.0" x2="904.3" y2="144.0" stroke="#fb6c18"/>
<line x1="904.3" y1="144.0" x2="905.5" y2="152.0" stroke="#fb6c18"/>
<line x1="905.5" y1="152.0" x2="906.8" y2="160.0" stroke="#fa6c19"/>
<line x1="906.8" y1="160.0" x2="908.1" y2="168.9" stroke="#fa6d1b"/>
<line x1="908.1" y1="168.9" x2="909.4" y2="177.8" stroke="#fa6d1c"/>
<line x1="909.4" y1="177.8" x2="910.6" y2="168.5" stroke="#fa6d1c"/>
<line x1="910.6" y1="168.5" x2="911.8" y2="159.3" stroke="#fa6d1b"/>
<line x1="911.8" y1="159.3" x2="913.0" y2="150.0" stroke="#fa6c19"/>
<line x1="913.0" y1="150.0" x2="914.1" y2="139.7" stroke="#fb6b17"/>
<line x1="914.1" y1="139.7" x2="915.1" y2="129.3" stroke="#fb6b16"/>
<line x1="915.1" y1="129.3" x2="916.2" y2="119.0" stroke="#fb6a14"/>
<line x1="916.2" y1="119.0" x2="917.7" y2="108.6" stroke="#fc6912"/>
<line x1="917.7" y1="108.6" x2="919.2" y2="98.2" stroke="#fc6811"/>
<line x1="919.2" y1="98.2" x2="920.3" y2="108.1" stroke="#fc6811"/>
<line x1="920.3" y1="108.1" x2="921.4" y2="118.0" stroke="#fc6912"/>
<line x1="921.4" y1="118.0" x2="922.8" y2="129.0" stroke="#fb6a14"/>
<line x1="922.8" y1="129.0" x2="924.2" y2="140.0" stroke="#fb6b16"/>
<line x1="924.2" y1="140.0" x2="925.1" y2="131.0" stroke="#fb6b16"/>
<line x1="925.1" y1="131.0" x2="926.0" y2="122.0" stroke="#fb6a15"/>
<line x1="926.0" y1="122.0" x2="927.8" y2="110.7" stroke="#fc6913"/>
<line x1="927.8" y1="110.7" x2="930.0" y2="118.5" stroke="#fc6913"/>
</g>
<circle cx="134.3" cy="697.1" r="3.55" fill="#f7f3f1"/>
<circle cx="151.3" cy="694.4" r="3.55" fill="#f7f2ef"/>
<circle cx="164.9" cy="693.0" r="3.55" fill="#f7f1ef"/>
<circle cx="171.7" cy="687.6" r="3.55" fill="#f7f0ec"/>
<circle cx="178.5" cy="685.6" r="3.55" fill="#f7efeb"/>
<circle cx="186.7" cy="678.1" r="3.55" fill="#f7ede8"/>
<circle cx="193.5" cy="680.8" r="3.55" fill="#f7eee9"/>
<circle cx="201.7" cy="675.3" r="3.55" fill="#f7ece6"/>
<circle cx="214.0" cy="672.9" r="3.55" fill="#f7ebe5"/>
<circle cx="224.5" cy="669.0" r="3.55" fill="#f7eae4"/>
<circle cx="234.0" cy="660.8" r="3.55" fill="#f7e8e0"/>
<circle cx="242.2" cy="649.9" r="3.55" fill="#f7e4db"/>
<circle cx="250.4" cy="636.3" r="3.55" fill="#f7e0d4"/>
<circle cx="258.5" cy="620.6" r="3.55" fill="#f7dbcd"/>
<circle cx="262.6" cy="607.7" r="3.55" fill="#f7d8c7"/>
<circle cx="265.5" cy="599.0" r="3.55" fill="#f7d6c5"/>
<circle cx="267.4" cy="594.0" r="3.55" fill="#f7d4c3"/>
<circle cx="268.9" cy="571.2" r="3.55" fill="#f7cfbb"/>
<circle cx="270.8" cy="589.0" r="3.55" fill="#f7d3c1"/>
<circle cx="272.3" cy="603.6" r="3.55" fill="#f7d7c6"/>
<circle cx="274.6" cy="596.0" r="3.55" fill="#f7d5c4"/>
<circle cx="277.1" cy="577.6" r="3.55" fill="#f7d0be"/>
<circle cx="284.1" cy="554.2" r="3.55" fill="#f7cbb6"/>
<circle cx="288.8" cy="540.2" r="3.55" fill="#f7c7b1"/>
<circle cx="291.3" cy="533.8" r="3.55" fill="#f7c6af"/>
<circle cx="293.5" cy="545.4" r="3.55" fill="#f7c9b3"/>
<circle cx="296.3" cy="541.8" r="3.55" fill="#f7c8b2"/>
<circle cx="299.0" cy="549.0" r="3.55" fill="#f7cab4"/>
<circle cx="302.6" cy="550.0" r="3.55" fill="#f7cab4"/>
<circle cx="305.3" cy="563.6" r="3.55" fill="#f7cdb9"/>
<circle cx="308.0" cy="578.0" r="3.55" fill="#f7d0be"/>
<circle cx="313.5" cy="583.5" r="3.55" fill="#f7d2bf"/>
<circle cx="316.2" cy="581.7" r="3.55" fill="#f7d1bf"/>
<circle cx="319.0" cy="570.8" r="3.55" fill="#f7cfbb"/>
<circle cx="323.5" cy="572.6" r="3.55" fill="#f7cfbc"/>
<circle cx="327.1" cy="569.0" r="3.55" fill="#f7cebb"/>
<circle cx="330.8" cy="556.3" r="3.55" fill="#f7cbb7"/>
<circle cx="333.5" cy="555.4" r="3.55" fill="#f7cbb6"/>
<circle cx="337.1" cy="563.6" r="3.55" fill="#f7cdb9"/>
<circle cx="342.6" cy="564.5" r="3.55" fill="#f7cdb9"/>
<circle cx="348.2" cy="569.4" r="3.55" fill="#f7cebb"/>
<circle cx="351.6" cy="568.1" r="3.55" fill="#f7ceba"/>
<circle cx="355.0" cy="579.0" r="3.55" fill="#f7d1be"/>
<circle cx="357.7" cy="584.4" r="3.55" fill="#f7d2c0"/>
<circle cx="361.1" cy="574.9" r="3.55" fill="#f7d0bd"/>
<circle cx="365.9" cy="579.0" r="3.55" fill="#f7d1be"/>
<circle cx="370.0" cy="583.0" r="3.55" fill="#f7d2bf"/>
<circle cx="372.7" cy="576.2" r="3.55" fill="#f7d0bd"/>
<circle cx="374.0" cy="559.9" r="3.55" fill="#f7ccb8"/>
<circle cx="378.1" cy="554.5" r="3.55" fill="#f7cbb6"/>
<circle cx="380.2" cy="546.3" r="3.55" fill="#f7c9b3"/>
<circle cx="382.2" cy="554.5" r="3.55" fill="#f7cbb6"/>
<circle cx="387.0" cy="559.9" r="3.55" fill="#f7ccb8"/>
<circle cx="389.0" cy="549.0" r="3.55" fill="#f7cab4"/>
<circle cx="392.4" cy="543.6" r="3.55" fill="#f7c8b2"/>
<circle cx="398.5" cy="536.8" r="3.55" fill="#f7c7b0"/>
<circle cx="402.6" cy="528.6" r="3.55" fill="#f7c5ad"/>
<circle cx="406.7" cy="540.8" r="3.55" fill="#f7c8b1"/>
<circle cx="412.1" cy="542.2" r="3.55" fill="#f7c8b2"/>
<circle cx="416.2" cy="534.0" r="3.55" fill="#f7c6af"/>
<circle cx="419.0" cy="529.3" r="3.55" fill="#f7c5ad"/>
<circle cx="424.4" cy="535.4" r="3.55" fill="#f7c6b0"/>
<circle cx="428.5" cy="543.6" r="3.55" fill="#f7c8b2"/>
<circle cx="431.2" cy="550.4" r="3.55" fill="#f7cab5"/>
<circle cx="436.7" cy="544.2" r="3.55" fill="#f7c8b3"/>
<circle cx="440.7" cy="554.5" r="3.55" fill="#f7cbb6"/>
<circle cx="444.1" cy="561.9" r="3.55" fill="#f7cdb8"/>
<circle cx="448.9" cy="558.5" r="3.55" fill="#f7ccb7"/>
<circle cx="453.0" cy="566.7" r="3.55" fill="#f7ceba"/>
<circle cx="456.4" cy="562.6" r="3.55" fill="#f7cdb9"/>
<circle cx="461.2" cy="572.1" r="3.55" fill="#f7cfbc"/>
<circle cx="465.4" cy="573.0" r="3.55" fill="#f7cfbc"/>
<circle cx="470.2" cy="577.1" r="3.55" fill="#f7d0bd"/>
<circle cx="475.0" cy="573.0" r="3.55" fill="#f7cfbc"/>
<circle cx="477.7" cy="555.3" r="3.55" fill="#f7cbb6"/>
<circle cx="483.1" cy="547.2" r="3.55" fill="#f7c9b3"/>
<circle cx="487.2" cy="540.4" r="3.55" fill="#f7c7b1"/>
<circle cx="490.6" cy="551.3" r="3.55" fill="#f7cab5"/>
<circle cx="494.0" cy="559.4" r="3.55" fill="#f7ccb8"/>
<circle cx="497.4" cy="558.1" r="3.55" fill="#f7ccb7"/>
<circle cx="500.8" cy="566.2" r="3.55" fill="#f7ceba"/>
<circle cx="504.9" cy="567.6" r="3.55" fill="#f7ceba"/>
<circle cx="507.6" cy="554.0" r="3.55" fill="#f7cbb6"/>
<circle cx="511.0" cy="547.2" r="3.55" fill="#f7c9b3"/>
<circle cx="515.8" cy="548.5" r="3.55" fill="#f7c9b4"/>
<circle cx="518.5" cy="555.3" r="3.55" fill="#f7cbb6"/>
<circle cx="521.9" cy="547.2" r="3.55" fill="#f7c9b3"/>
<circle cx="528.1" cy="551.3" r="3.55" fill="#f7cab5"/>
<circle cx="534.2" cy="556.0" r="3.55" fill="#f7cbb6"/>
<circle cx="540.3" cy="549.9" r="3.55" fill="#f7cab4"/>
<circle cx="547.1" cy="547.2" r="3.55" fill="#f7c9b3"/>
<circle cx="553.2" cy="541.7" r="3.55" fill="#f7c8b2"/>
<circle cx="555.3" cy="528.1" r="3.55" fill="#f7c5ad"/>
<circle cx="556.7" cy="517.2" r="3.55" fill="#f7c2a9"/>
<circle cx="560.7" cy="518.6" r="3.55" fill="#f7c3aa"/>
<circle cx="563.5" cy="506.3" r="3.55" fill="#f7c0a6"/>
<circle cx="568.9" cy="500.2" r="3.55" fill="#f7bea4"/>
<circle cx="575.7" cy="503.6" r="3.55" fill="#f7bfa5"/>
<circle cx="578.4" cy="513.5" r="3.55" fill="#f7c1a8"/>
<circle cx="581.8" cy="505.3" r="3.55" fill="#f7c0a5"/>
<circle cx="588.6" cy="506.7" r="3.55" fill="#f7c0a6"/>
<circle cx="595.4" cy="495.5" r="3.55" fill="#f6bda2"/>
<circle cx="602.2" cy="501.3" r="3.55" fill="#f7bfa4"/>
<circle cx="607.7" cy="501.3" r="3.55" fill="#f7bfa4"/>
<circle cx="614.5" cy="509.4" r="3.55" fill="#f7c1a7"/>
<circle cx="617.2" cy="487.6" r="3.55" fill="#f6bc9f"/>
<circle cx="621.3" cy="484.9" r="3.55" fill="#f6bb9e"/>
<circle cx="626.0" cy="489.0" r="3.55" fill="#f6bca0"/>
<circle cx="627.4" cy="467.2" r="3.55" fill="#f6b799"/>
<circle cx="633.5" cy="463.8" r="3.55" fill="#f6b697"/>
<circle cx="639.2" cy="449.4" r="3.55" fill="#f6b393"/>
<circle cx="644.7" cy="448.0" r="3.55" fill="#f6b392"/>
<circle cx="649.5" cy="416.7" r="3.55" fill="#f5ab88"/>
<circle cx="655.6" cy="414.7" r="3.55" fill="#f5ab87"/>
<circle cx="659.0" cy="392.2" r="3.55" fill="#f5a580"/>
<circle cx="661.7" cy="386.1" r="3.55" fill="#f5a47d"/>
<circle cx="665.8" cy="397.7" r="3.55" fill="#f5a781"/>
<circle cx="669.9" cy="400.4" r="3.55" fill="#f5a782"/>
<circle cx="674.0" cy="397.0" r="3.55" fill="#f5a681"/>
<circle cx="676.7" cy="386.1" r="3.55" fill="#f5a47d"/>
<circle cx="680.8" cy="403.1" r="3.55" fill="#f5a883"/>
<circle cx="684.2" cy="415.4" r="3.55" fill="#f5ab87"/>
<circle cx="687.6" cy="420.8" r="3.55" fill="#f6ac89"/>
<circle cx="691.7" cy="417.4" r="3.55" fill="#f5ab88"/>
<circle cx="694.4" cy="422.2" r="3.55" fill="#f6ac8a"/>
<circle cx="696.4" cy="441.2" r="3.55" fill="#f6b190"/>
<circle cx="697.6" cy="458.0" r="3.55" fill="#f6b595"/>
<circle cx="700.9" cy="472.2" r="3.55" fill="#f6b89a"/>
<circle cx="706.3" cy="474.3" r="3.55" fill="#f6b99b"/>
<circle cx="710.4" cy="484.5" r="3.55" fill="#f6bb9e"/>
<circle cx="717.2" cy="485.2" r="3.55" fill="#f6bb9f"/>
<circle cx="722.0" cy="499.5" r="3.55" fill="#f7bea3"/>
<circle cx="725.4" cy="504.9" r="3.55" fill="#f7bfa5"/>
<circle cx="730.2" cy="496.0" r="3.55" fill="#f6bda2"/>
<circle cx="733.6" cy="504.9" r="3.55" fill="#f7bfa5"/>
<circle cx="736.3" cy="517.1" r="3.55" fill="#f7c2a9"/>
<circle cx="741.7" cy="525.3" r="3.55" fill="#f7c4ac"/>
<circle cx="748.5" cy="529.4" r="3.55" fill="#f7c5ae"/>
<circle cx="755.3" cy="532.8" r="3.55" fill="#f7c6af"/>
<circle cx="760.8" cy="525.3" r="3.55" fill="#f7c4ac"/>
<circle cx="764.2" cy="518.5" r="3.55" fill="#f7c3aa"/>
<circle cx="765.6" cy="502.2" r="3.55" fill="#f7bfa4"/>
<circle cx="769.0" cy="495.4" r="3.55" fill="#f6bda2"/>
<circle cx="775.8" cy="490.6" r="3.55" fill="#f6bca0"/>
<circle cx="783.9" cy="487.2" r="3.55" fill="#f6bc9f"/>
<circle cx="789.4" cy="492.6" r="3.55" fill="#f6bda1"/>
<circle cx="793.5" cy="488.6" r="3.55" fill="#f6bca0"/>
<circle cx="795.5" cy="479.0" r="3.55" fill="#f6ba9c"/>
<circle cx="803.0" cy="473.6" r="3.55" fill="#f6b89b"/>
<circle cx="811.2" cy="475.0" r="3.55" fill="#f6b99b"/>
<circle cx="815.2" cy="469.5" r="3.55" fill="#f6b899"/>
<circle cx="816.4" cy="453.0" r="3.55" fill="#f6b494"/>
<circle cx="821.8" cy="447.6" r="3.55" fill="#f6b292"/>
<circle cx="829.3" cy="447.6" r="3.55" fill="#f6b292"/>
<circle cx="833.4" cy="435.3" r="3.55" fill="#f6b08e"/>
<circle cx="834.0" cy="421.7" r="3.55" fill="#f6ac89"/>
<circle cx="839.5" cy="412.2" r="3.55" fill="#f5aa86"/>
<circle cx="844.9" cy="399.3" r="3.55" fill="#f5a782"/>
<circle cx="850.4" cy="409.5" r="3.55" fill="#f5a985"/>
<circle cx="857.2" cy="422.4" r="3.55" fill="#f6ac8a"/>
<circle cx="864.0" cy="414.9" r="3.55" fill="#f5ab87"/>
<circle cx="872.1" cy="423.1" r="3.55" fill="#f6ad8a"/>
<circle cx="876.2" cy="414.9" r="3.55" fill="#f5ab87"/>
<circle cx="879.0" cy="401.3" r="3.55" fill="#f5a783"/>
<circle cx="881.7" cy="383.6" r="3.55" fill="#f5a37c"/>
<circle cx="885.8" cy="371.4" r="3.55" fill="#f59f74"/>
<circle cx="890.7" cy="349.9" r="3.55" fill="#f59767"/>
<circle cx="892.1" cy="329.9" r="3.55" fill="#f6915b"/>
<circle cx="893.5" cy="311.4" r="3.55" fill="#f68a50"/>
<circle cx="894.9" cy="286.4" r="3.55" fill="#f68343"/>
<circle cx="896.0" cy="270.0" r="3.55" fill="#f77f3c"/>
<circle cx="896.6" cy="244.9" r="3.55" fill="#f87931"/>
<circle cx="897.2" cy="225.8" r="3.55" fill="#f87429"/>
<circle cx="897.9" cy="206.8" r="3.55" fill="#f97022"/>
<circle cx="900.2" cy="215.4" r="3.55" fill="#f97124"/>
<circle cx="900.8" cy="195.0" r="3.55" fill="#f96f20"/>
<circle cx="901.8" cy="178.0" r="3.55" fill="#fa6e1d"/>
<circle cx="903.2" cy="160.0" r="3.55" fill="#fa6c1a"/>
<circle cx="904.3" cy="144.0" r="3.55" fill="#fb6b17"/>
<circle cx="906.8" cy="160.0" r="3.55" fill="#fa6c1a"/>
<circle cx="909.4" cy="177.8" r="3.55" fill="#fa6e1d"/>
<circle cx="913.0" cy="150.0" r="3.55" fill="#fb6c18"/>
<circle cx="916.2" cy="119.0" r="3.55" fill="#fb6913"/>
<circle cx="919.2" cy="98.2" r="3.55" fill="#fc6810"/>
<circle cx="921.4" cy="118.0" r="3.55" fill="#fb6913"/>
<circle cx="924.2" cy="140.0" r="3.55" fill="#fb6b17"/>
<circle cx="926.0" cy="122.0" r="3.55" fill="#fb6a14"/>
<circle cx="927.8" cy="110.7" r="3.55" fill="#fc6912"/>
<circle cx="930.0" cy="118.5" r="3.55" fill="#fb6913"/>
<circle cx="134.3" cy="697.1" r="4.1" fill="#f7f3f1"/>
<line x1="91.7" y1="701.0" x2="973" y2="335.0" stroke="#cfdb3c" stroke-width="2.6" stroke-dasharray="4.8 2.4"/>
<line x1="932.6" y1="121" x2="954" y2="322" stroke="#ffffff" stroke-width="2.7" stroke-dasharray="8.8 9"/>
<polygon points="949.8,326.6 959.8,326.6 955,336" fill="#ffffff"/>
<text x="952" y="360.6" text-anchor="middle" font-size="11.9" font-weight="bold" fill="#cfdc45">$1,800</text>
<text x="952.5" y="376" text-anchor="middle" font-size="11" font-weight="bold" fill="#cfdc45">(Trend)</text>
</svg></body></html>
